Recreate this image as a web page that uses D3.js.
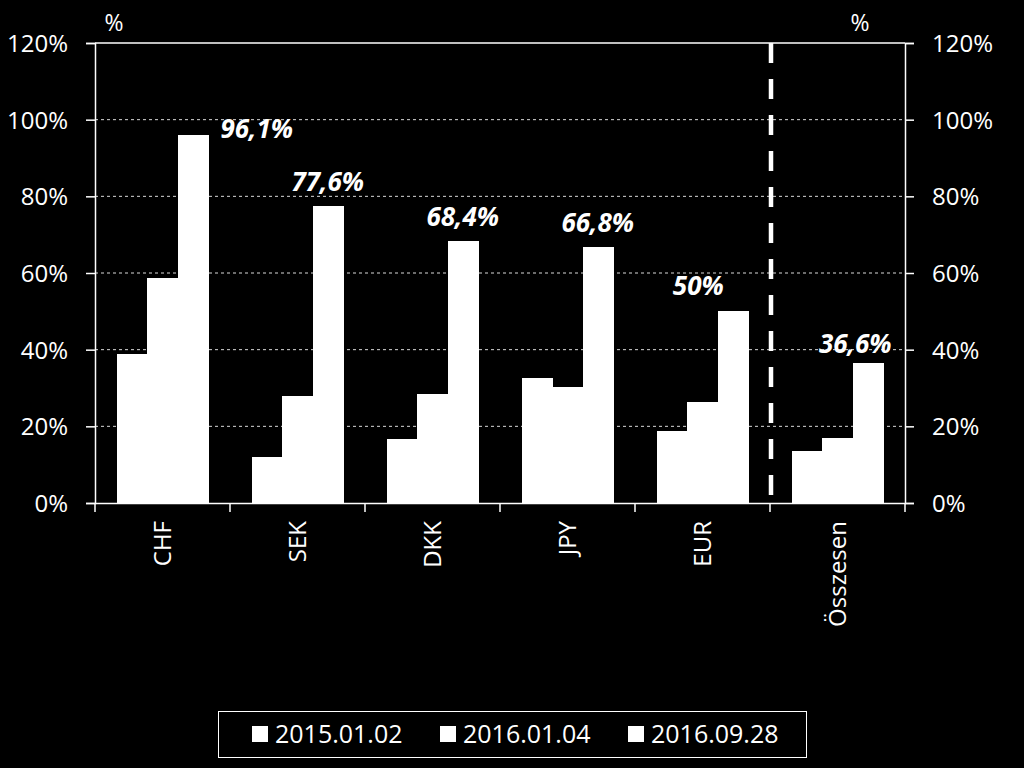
<!DOCTYPE html>
<html><head><meta charset="utf-8">
<script src="https://cdn.jsdelivr.net/npm/d3@7"></script>
<style>
html,body{margin:0;padding:0;background:#000;}
svg{display:block;}
text{font-family:"Open Sans","Lato",sans-serif;fill:#fff;}
</style></head>
<body>
<svg id="chart" width="1024" height="768"></svg>
<script>
const categories = ["CHF","SEK","DKK","JPY","EUR","Összesen"];
const seriesNames = ["2015.01.02","2016.01.04","2016.09.28"];
const s2015 = [38.8, 12.0, 16.7, 32.6, 18.8, 13.6];
const s2016a = [58.8, 27.9, 28.4, 30.2, 26.3, 16.9];
const s2016b = [96.1, 77.6, 68.4, 66.8, 50.0, 36.6];
const valueLabels = ["96,1%","77,6%","68,4%","66,8%","50%","36,6%"];
const yTicks = [0,20,40,60,80,100,120];
const unitLabel = "%";

// label placement (style)
const labelDx = [64, 0, 0, 0, -34.5, -12.5];
const labelDy = [3, -15, -15, -15, -16, -10];

const svg = d3.select("#chart");
const M = {left:95, right:905, top:43, bottom:503};
const x = d3.scaleBand().domain(categories).range([M.left, M.right]).paddingInner(0).paddingOuter(0);
const y = d3.scaleLinear().domain([0,120]).range([M.bottom, M.top]);
const inner = d3.scaleBand().domain(seriesNames).range([0, x.bandwidth()]).paddingOuter(0.73).paddingInner(0);
const series = [s2015, s2016a, s2016b];

// gridlines
svg.append("g").selectAll("line").data(yTicks.filter(t=>t>0 && t<120)).join("line")
  .attr("x1", M.left).attr("x2", M.right)
  .attr("y1", d=>y(d)).attr("y2", d=>y(d))
  .attr("stroke","#fff").attr("stroke-width",1).attr("stroke-dasharray","3,3").attr("opacity",0.85);

// top border
svg.append("line").attr("x1",M.left).attr("x2",M.right).attr("y1",y(120)).attr("y2",y(120))
  .attr("stroke","#fff").attr("stroke-width",1.5);

// bars
series.forEach((vals, si)=>{
  svg.append("g").selectAll("rect").data(categories).join("rect")
    .attr("x", c=>x(c)+inner(seriesNames[si]))
    .attr("width", inner.bandwidth()+0.6)
    .attr("y", (c,i)=>y(vals[i]))
    .attr("height", (c,i)=>y(0)-y(vals[i]))
    .attr("fill","#fff")
    .attr("shape-rendering","crispEdges");
});

// axes
const leftAxis = d3.axisLeft(y).tickValues(yTicks).tickFormat(d=>d+"%").tickSize(9).tickPadding(18);
const gl = svg.append("g").attr("transform",`translate(${M.left},0)`).call(leftAxis);
const rightAxis = d3.axisRight(y).tickValues(yTicks).tickFormat(d=>d+"%").tickSize(9).tickPadding(18);
const gr = svg.append("g").attr("transform",`translate(${M.right},0)`).call(rightAxis);
[gl,gr].forEach(g=>{
  g.select(".domain").attr("stroke","#fff").attr("stroke-width",1.5);
  g.selectAll(".tick line").attr("stroke","#fff").attr("stroke-width",1.5);
  g.selectAll(".tick text").attr("fill","#fff").style("font-size","24px").attr("dy","0.35em");
});

// x axis
const bottomAxis = d3.axisBottom(x).tickSize(0).tickFormat("");
const gb = svg.append("g").attr("transform",`translate(0,${M.bottom})`).call(bottomAxis);
gb.select(".domain").attr("stroke","#fff").attr("stroke-width",1.5);
svg.append("g").selectAll("line").data(d3.range(categories.length+1)).join("line")
  .attr("x1", i=>M.left + i*x.step()).attr("x2", i=>M.left + i*x.step())
  .attr("y1", M.bottom).attr("y2", M.bottom+9)
  .attr("stroke","#fff").attr("stroke-width",1.5);

svg.append("g").selectAll("text").data(categories).join("text")
  .attr("transform", c=>`translate(${x(c)+x.bandwidth()/2+8},${M.bottom+18}) rotate(-90)`)
  .attr("text-anchor","end")
  .style("font-size","24px")
  .text(c=>c);

// dashed separator
svg.append("line")
  .attr("x1", x("Összesen")+1).attr("x2", x("Összesen")+1)
  .attr("y1", M.top).attr("y2", M.bottom-3)
  .attr("stroke","#fff").attr("stroke-width",4.5).attr("stroke-dasharray","20,16");

// value labels
svg.append("g").selectAll("text").data(categories).join("text")
  .attr("x",(c,i)=>x(c)+inner(seriesNames[2])+inner.bandwidth()/2+labelDx[i])
  .attr("y",(c,i)=>y(s2016b[i])+labelDy[i])
  .attr("text-anchor","middle")
  .style("font-size","26px").style("font-weight","bold").style("font-style","italic")
  .text((c,i)=>valueLabels[i]);

// unit labels
svg.append("text").attr("x",114).attr("y",31).attr("text-anchor","middle").style("font-size","23px").text(unitLabel);
svg.append("text").attr("x",860).attr("y",31).attr("text-anchor","middle").style("font-size","23px").text(unitLabel);

// legend
const lg = svg.append("g");
lg.append("rect").attr("x",218.5).attr("y",711.5).attr("width",588).attr("height",46)
  .attr("fill","none").attr("stroke","#fff").attr("stroke-width",1);
const legX = [252, 440, 628];
seriesNames.forEach((n,i)=>{
  lg.append("rect").attr("x",legX[i]).attr("y",726).attr("width",16).attr("height",16).attr("fill","#fff");
  lg.append("text").attr("x",legX[i]+23).attr("y",743).style("font-size","25px").text(n);
});
</script>
</body></html>
